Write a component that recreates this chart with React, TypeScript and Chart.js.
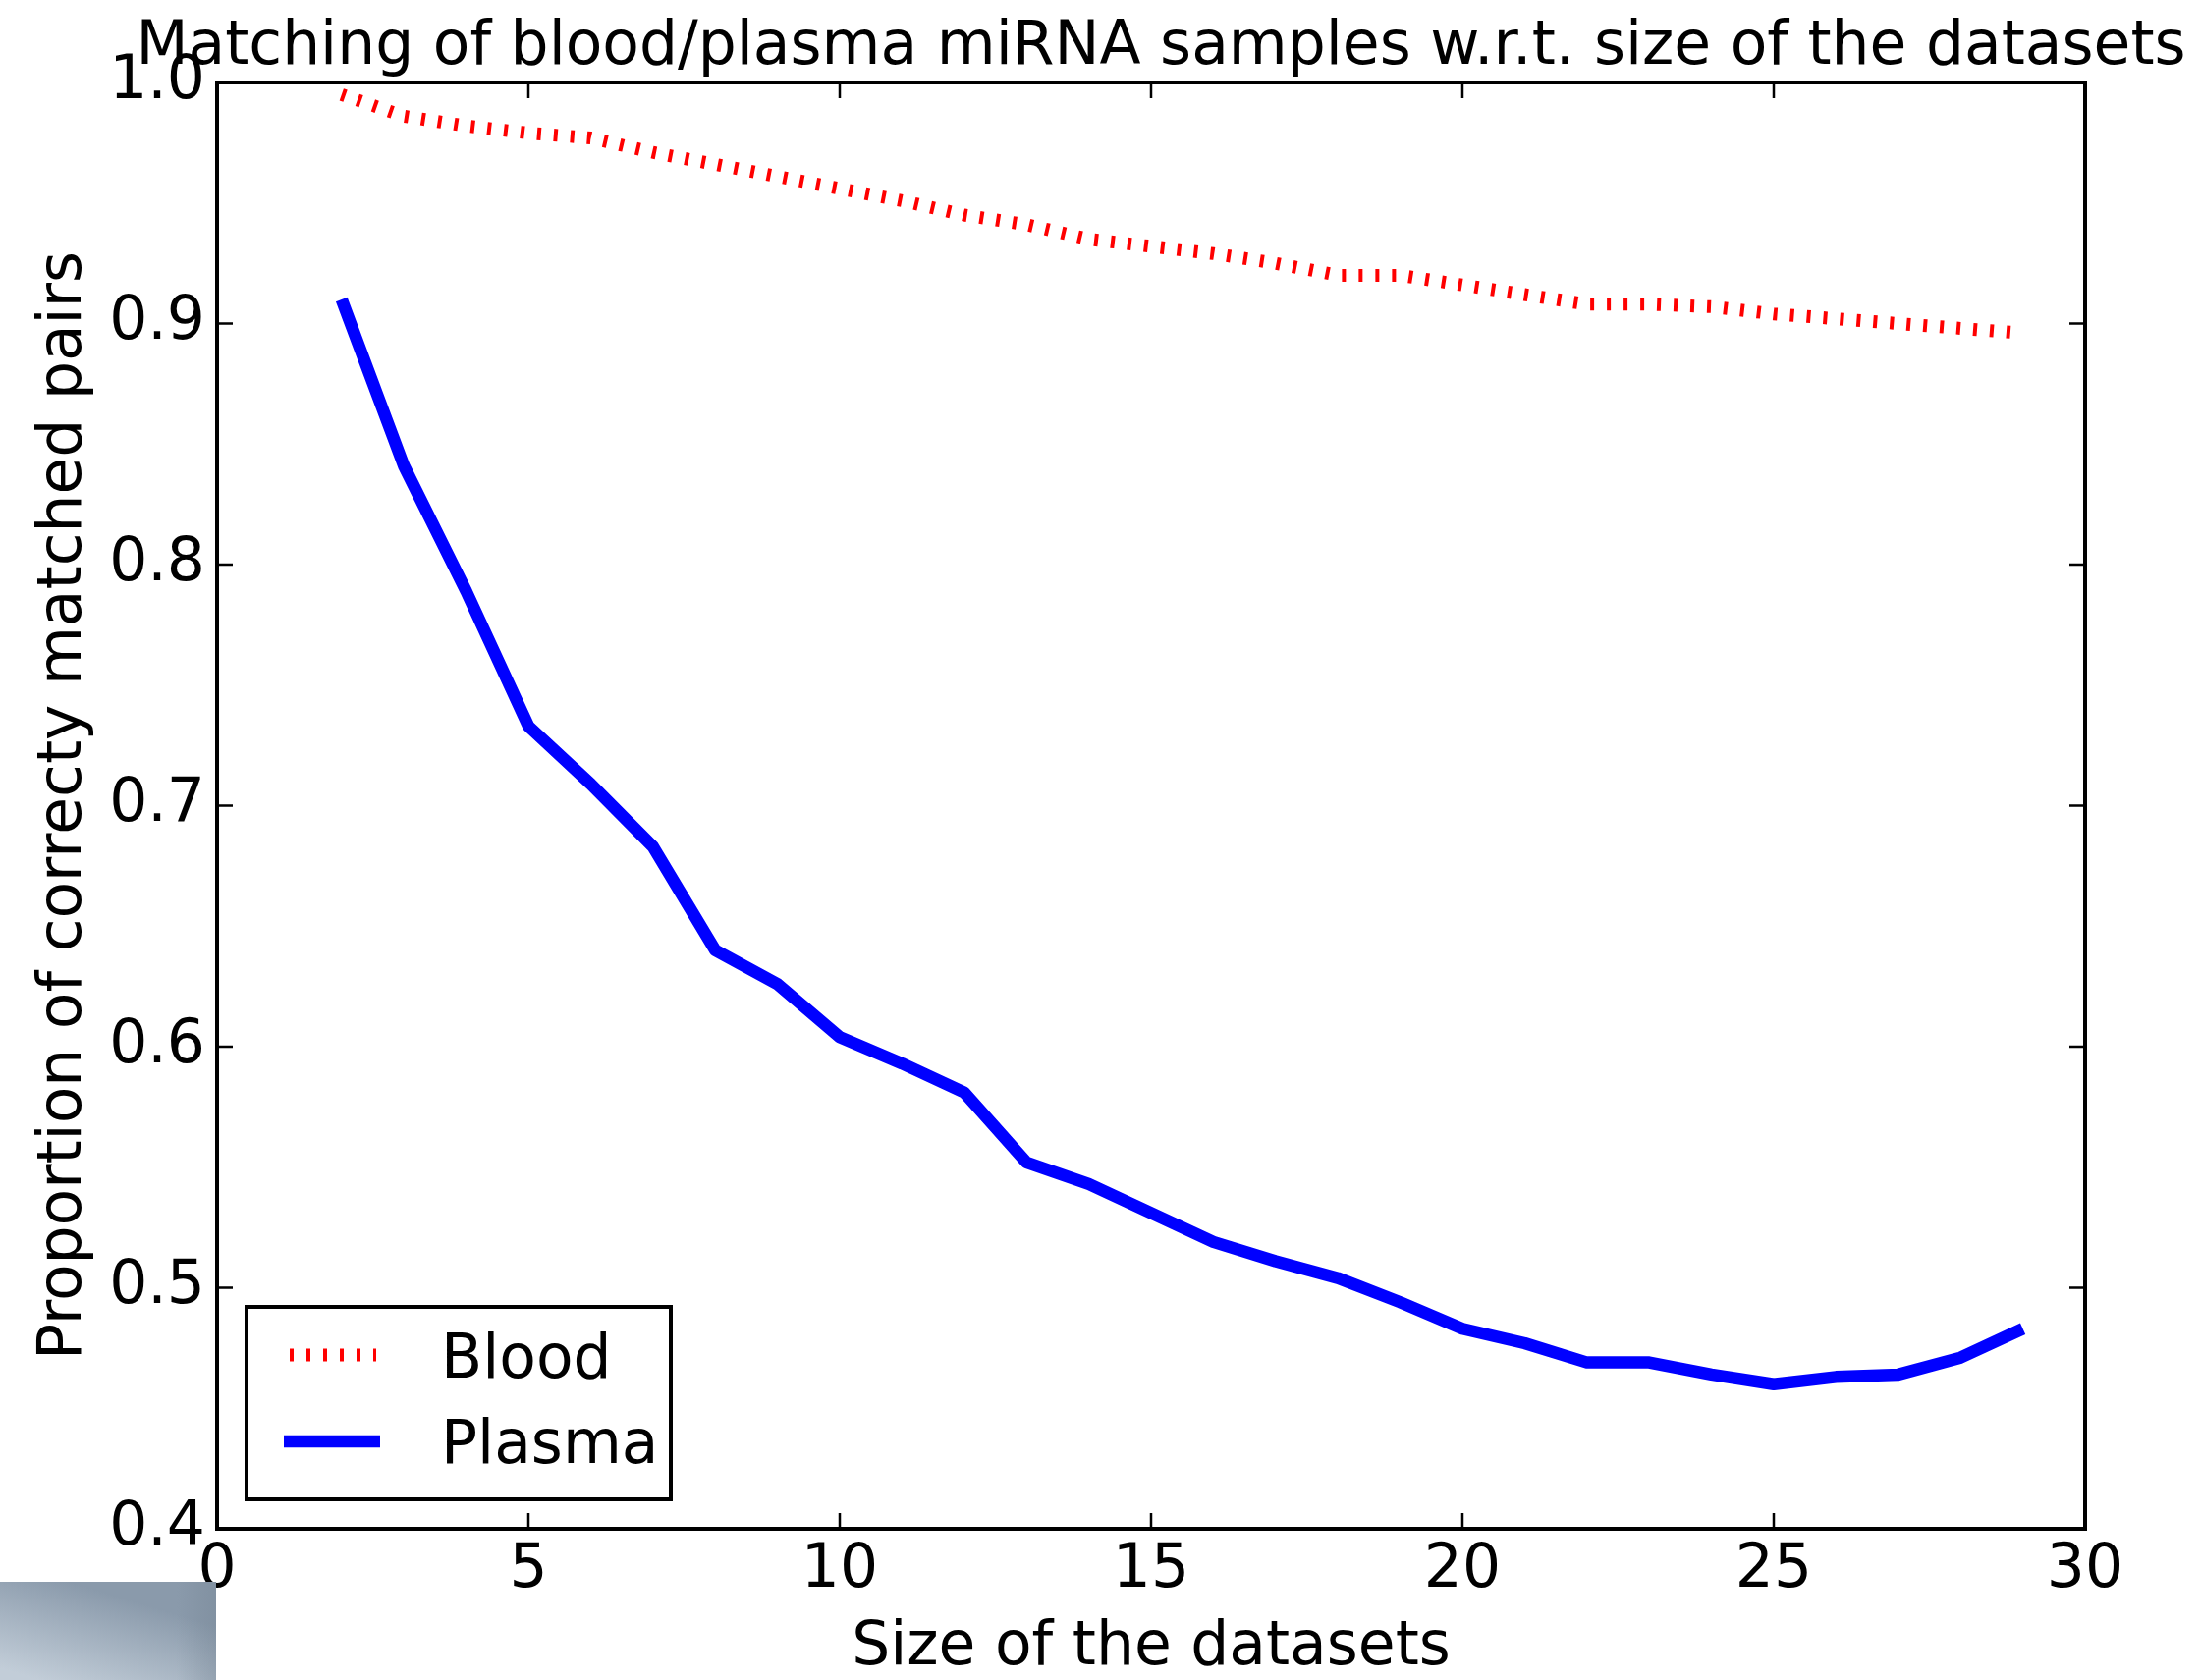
import React, { useEffect, useRef } from 'react';
import { Chart, registerables } from 'chart.js';

Chart.register(...registerables);

const sizes = [2, 3, 4, 5, 6, 7, 8, 9, 10, 11, 12, 13, 14, 15, 16, 17, 18, 19, 20, 21, 22, 23, 24, 25, 26, 27, 28, 29];
const bloodValues = [0.995, 0.986, 0.982, 0.979, 0.977, 0.971, 0.966, 0.961, 0.956, 0.951, 0.945, 0.941, 0.935, 0.932, 0.929, 0.925, 0.920, 0.920, 0.916, 0.912, 0.908, 0.908, 0.907, 0.904, 0.902, 0.900, 0.898, 0.896];
const plasmaValues = [0.910, 0.841, 0.789, 0.733, 0.709, 0.683, 0.640, 0.626, 0.604, 0.593, 0.581, 0.552, 0.543, 0.531, 0.519, 0.511, 0.504, 0.494, 0.483, 0.477, 0.469, 0.469, 0.464, 0.460, 0.463, 0.464, 0.471, 0.483];
const xTickValues = [0, 5, 10, 15, 20, 25, 30];
const yTickValues = [0.4, 0.5, 0.6, 0.7, 0.8, 0.9, 1.0];
const seriesLabels = ['Blood', 'Plasma'];
const titleText = 'Matching of blood/plasma miRNA samples w.r.t. size of the datasets';
const xAxisTitle = 'Size of the datasets';
const yAxisTitle = 'Proportion of correcty matched pairs';

const FONT = '"DejaVu Sans", "Liberation Sans", sans-serif';
const FS = 61.5;
const W = 2240;
const H = 1711;

const decorPlugin = {
  id: 'decor',
  afterDraw(chart: any) {
    const { ctx, chartArea: ca, scales } = chart;
    const xs = scales.x;
    const ys = scales.y;
    ctx.save();
    // frame
    ctx.strokeStyle = '#000';
    ctx.lineWidth = 4;
    ctx.strokeRect(ca.left, ca.top, ca.right - ca.left, ca.bottom - ca.top);
    // inward ticks
    ctx.lineWidth = 2.5;
    ctx.beginPath();
    for (const v of xTickValues) {
      const px = xs.getPixelForValue(v);
      ctx.moveTo(px, ca.bottom);
      ctx.lineTo(px, ca.bottom - 16);
      ctx.moveTo(px, ca.top);
      ctx.lineTo(px, ca.top + 16);
    }
    for (const v of yTickValues) {
      const py = ys.getPixelForValue(v);
      ctx.moveTo(ca.left, py);
      ctx.lineTo(ca.left + 16, py);
      ctx.moveTo(ca.right, py);
      ctx.lineTo(ca.right - 16, py);
    }
    ctx.stroke();

    // title
    ctx.fillStyle = '#000';
    ctx.font = `${FS}px ${FONT}`;
    ctx.textAlign = 'center';
    ctx.textBaseline = 'alphabetic';
    const cx = (ca.left + ca.right) / 2;
    ctx.fillText(titleText, cx + 10, 65);
    // x axis title
    ctx.fillText(xAxisTitle, cx, 1695);
    // y axis title
    ctx.save();
    ctx.translate(82, (ca.top + ca.bottom) / 2);
    ctx.rotate(-Math.PI / 2);
    ctx.fillText(yAxisTitle, 0, 0);
    ctx.restore();

    // legend
    const lx = 251, ly = 1331, lw = 432, lh = 196;
    ctx.fillStyle = '#fff';
    ctx.fillRect(lx, ly, lw, lh);
    ctx.strokeStyle = '#000';
    ctx.lineWidth = 4;
    ctx.strokeRect(lx, ly, lw, lh);

    ctx.lineCap = 'butt';
    ctx.strokeStyle = '#ff0000';
    ctx.lineWidth = 13;
    ctx.setLineDash([4, 13]);
    ctx.beginPath();
    ctx.moveTo(295, 1380);
    ctx.lineTo(383, 1380);
    ctx.stroke();
    ctx.setLineDash([]);
    ctx.strokeStyle = '#0000ff';
    ctx.lineWidth = 12.5;
    ctx.beginPath();
    ctx.moveTo(289, 1468);
    ctx.lineTo(387, 1468);
    ctx.stroke();

    ctx.fillStyle = '#000';
    ctx.textAlign = 'left';
    ctx.font = `${FS}px ${FONT}`;
    ctx.fillText(seriesLabels[0], 449, 1403);
    ctx.fillText(seriesLabels[1], 449, 1490);

    // grey corner patch
    const g = ctx.createLinearGradient(40, 1711, 70, 1611);
    g.addColorStop(0, '#c2cdd8');
    g.addColorStop(1, '#8a9aab');
    ctx.fillStyle = g;
    ctx.fillRect(0, 1611, 220, 100);
    const g2 = ctx.createLinearGradient(180, 0, 220, 0);
    g2.addColorStop(0, 'rgba(110,125,140,0)');
    g2.addColorStop(1, 'rgba(110,125,140,0.3)');
    ctx.fillStyle = g2;
    ctx.fillRect(180, 1611, 40, 100);
    ctx.restore();
  },
};

export default function App() {
  const ref = useRef<HTMLCanvasElement | null>(null);
  useEffect(() => {
    if (!ref.current) return;
    Chart.defaults.font.family = FONT;
    Chart.defaults.color = '#000';
    const chart = new Chart(ref.current, {
      type: 'line',
      data: {
        labels: sizes,
        datasets: [
          {
            label: seriesLabels[0],
            data: sizes.map((s, i) => ({ x: s, y: bloodValues[i] })),
            borderColor: '#ff0000',
            borderWidth: 13,
            borderDash: [4, 13],
            borderCapStyle: 'butt',
            borderJoinStyle: 'miter',
            pointRadius: 0,
            tension: 0,
            fill: false,
          },
          {
            label: seriesLabels[1],
            data: sizes.map((s, i) => ({ x: s, y: plasmaValues[i] })),
            borderColor: '#0000ff',
            borderWidth: 12.5,
            borderCapStyle: 'butt',
            borderJoinStyle: 'round',
            pointRadius: 0,
            tension: 0,
            fill: false,
          },
        ],
      },
      options: {
        responsive: false,
        animation: false,
        events: [],
        layout: { padding: { left: 0, right: 117, top: 84, bottom: 0 } },
        plugins: {
          legend: { display: false },
          title: { display: false },
          tooltip: { enabled: false },
        },
        scales: {
          x: {
            type: 'linear',
            min: 0,
            max: 30,
            grid: { display: false, drawTicks: false },
            border: { display: false },
            ticks: {
              stepSize: 5,
              padding: 6,
              color: '#000',
              font: { size: FS, family: FONT },
              maxRotation: 0,
              callback: (v: any) => String(v),
            },
            afterFit: (s: any) => {
              s.height = 154;
            },
          },
          y: {
            type: 'linear',
            min: 0.4,
            max: 1.0,
            grid: { display: false, drawTicks: false },
            border: { display: false },
            ticks: {
              stepSize: 0.1,
              padding: 12,
              color: '#000',
              font: { size: FS, family: FONT },
              callback: (v: any) => Number(v).toFixed(1),
            },
            afterFit: (s: any) => {
              s.width = 221;
            },
          },
        },
      },
      plugins: [decorPlugin],
    });
    return () => chart.destroy();
  }, []);
  return (
    <div style={{ position: 'absolute', left: 0, top: 0, width: W, height: H, background: '#fff' }}>
      <canvas ref={ref} width={W} height={H} style={{ display: 'block' }} />
    </div>
  );
}
